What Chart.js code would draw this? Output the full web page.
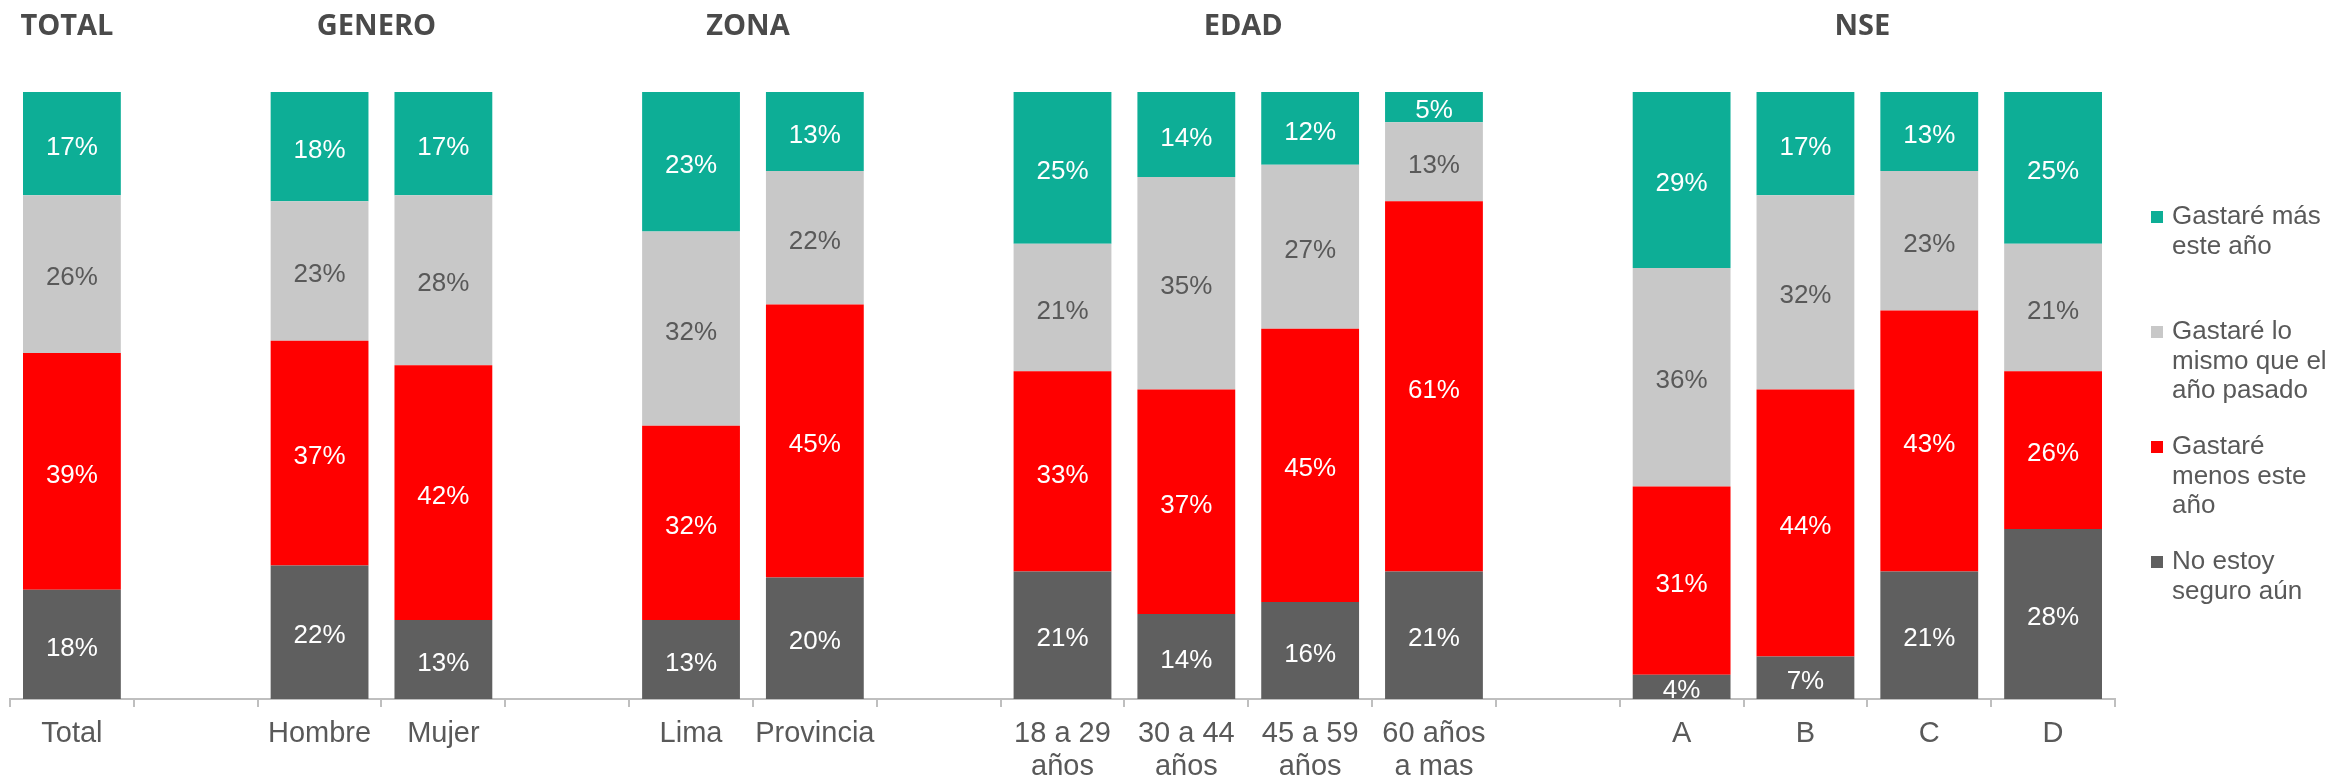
<!DOCTYPE html>
<html><head><meta charset="utf-8">
<script src="https://cdn.jsdelivr.net/npm/chart.js@4.4.0/dist/chart.umd.min.js"></script>
<style>html,body{margin:0;padding:0;background:#fff;overflow:hidden}#wrap{width:2331px;height:780px;position:relative}canvas{display:block}</style>
</head><body><div id="wrap"><canvas id="c" width="2331" height="780" style="width:2331px;height:780px"></canvas></div>
<script>
// ---- data ----
const categories = ['Total','','Hombre','Mujer','','Lima','Provincia','',['18 a 29','años'],['30 a 44','años'],['45 a 59','años'],['60 años','a mas'],'','A','B','C','D'];
const noSeguro = [18,null,22,13,null,13,20,null,21,14,16,21,null,4,7,21,28];
const menos    = [39,null,37,42,null,32,45,null,33,37,45,61,null,31,44,43,26];
const mismo    = [26,null,23,28,null,32,22,null,21,35,27,13,null,36,32,23,21];
const mas      = [17,null,18,17,null,23,13,null,25,14,12,5,null,29,17,13,25];
const seriesNames = ['No estoy seguro aún','Gastaré menos este año','Gastaré lo mismo que el año pasado','Gastaré más este año'];
const legendWrap = [['No estoy','seguro aún'],['Gastaré','menos este','año'],['Gastaré lo','mismo que el','año pasado'],['Gastaré más','este año']];
const groupTitles = ['TOTAL','GENERO','ZONA','EDAD','NSE'];
const groupFirst = [0,2,5,8,13];
const groupLast  = [0,3,6,11,16];

// ---- styles ----
const colors = ['#5F5F5F','#FF0000','#C8C8C8','#0DAE96'];
const labelColors = ['#FFFFFF','#FFFFFF','#595959','#FFFFFF'];
const FONT = "'Liberation Sans', Arial, sans-serif";

const valueLabels = {
  id:'valueLabels',
  afterDatasetsDraw(chart){
    const ctx = chart.ctx;
    ctx.save();
    ctx.font = '26px ' + FONT;
    ctx.textAlign = 'center';
    ctx.textBaseline = 'middle';
    chart.data.datasets.forEach((ds, di) => {
      const meta = chart.getDatasetMeta(di);
      meta.data.forEach((el, i) => {
        const v = ds.data[i];
        if (v === null || v === undefined) return;
        ctx.fillStyle = labelColors[di];
        ctx.fillText(v + '%', el.x, (el.y + el.base) / 2 + 4);
      });
    });
    ctx.restore();
  }
};

const extras = {
  id:'extras',
  afterDraw(chart){
    const ctx = chart.ctx;
    const xs = chart.scales.x;
    const area = chart.chartArea;
    ctx.save();
    ctx.font = "bold 29px 'Open Sans', sans-serif";
    ctx.fillStyle = '#4A4A4A';
    ctx.textAlign = 'center';
    ctx.textBaseline = 'middle';
    groupTitles.forEach((t, g) => {
      const cx = (xs.getPixelForValue(groupFirst[g]) + xs.getPixelForValue(groupLast[g])) / 2 - 5;
      ctx.fillText(t, cx, 27);
    });
    ctx.font = '26px ' + FONT;
    ctx.textAlign = 'left';
    const order = [3,2,1,0];
    const lx = area.right + 36;
    order.forEach((di, k) => {
      const y0 = 217 + k * 115;
      ctx.fillStyle = chart.data.datasets[di].backgroundColor;
      ctx.fillRect(lx, y0 - 6, 12, 12);
      ctx.fillStyle = '#595959';
      legendWrap[di].forEach((line, j) => ctx.fillText(line, lx + 21, y0 + j * 29.5));
    });
    ctx.restore();
  }
};

new Chart(document.getElementById('c'), {
  type:'bar',
  data:{
    labels: categories,
    datasets: [noSeguro, menos, mismo, mas].map((d, i) => ({
      label: seriesNames[i], data: d, backgroundColor: colors[i],
      borderWidth: 0, categoryPercentage: 1.0, barPercentage: 0.79
    }))
  },
  options:{
    responsive:false, animation:false, devicePixelRatio:1,
    layout:{padding:{left:10,right:216,top:92,bottom:0}},
    plugins:{legend:{display:false}, tooltip:{enabled:false}, title:{display:false}},
    scales:{
      x:{
        stacked:true, offset:true,
        grid:{display:true, drawOnChartArea:false, drawTicks:true, tickLength:8, color:'#BFBFBF', lineWidth:2, offset:true},
        border:{display:true, color:'#BFBFBF', width:2},
        ticks:{color:'#595959', font:{family:FONT, size:29, lineHeight:1.15}, padding:10, maxRotation:0, minRotation:0, autoSkip:false},
        afterFit(s){ s.height = 81; }
      },
      y:{stacked:true, min:0, max:100, display:false}
    }
  },
  plugins:[valueLabels, extras]
});
</script>
</body></html>
